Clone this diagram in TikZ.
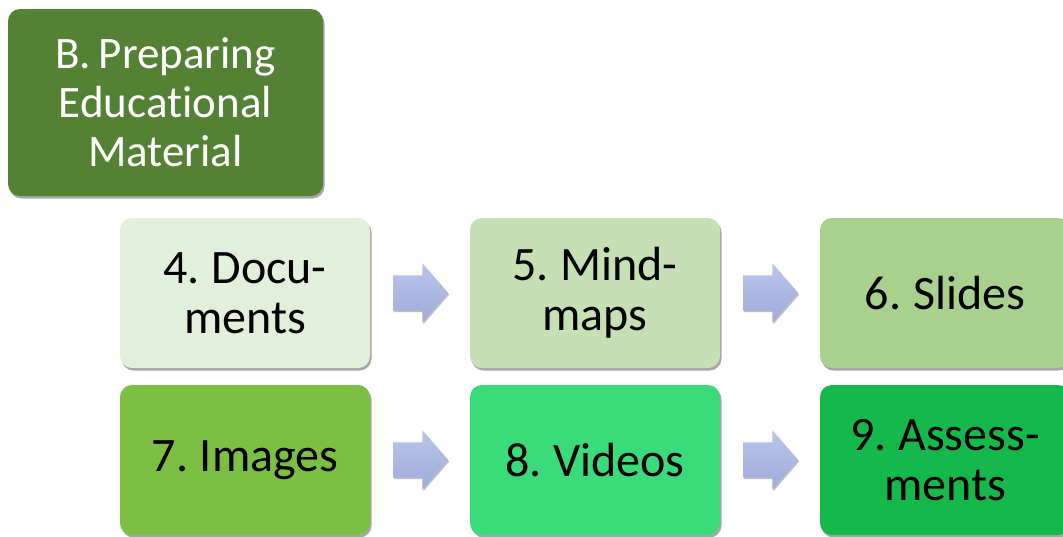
\documentclass[tikz,border=0pt]{standalone}
\usepackage{fontspec}
\setmainfont[RawFeature=-liga,WordSpace=0.75]{Carlito}
\usetikzlibrary{shadows,shapes.arrows}
\definecolor{cB}{HTML}{548235}
\definecolor{c4}{HTML}{E2EFDA}
\definecolor{c5}{HTML}{C5E0B4}
\definecolor{c6}{HTML}{A9D18E}
\definecolor{c7}{HTML}{7BC043}
\definecolor{c8}{HTML}{3ADC7A}
\definecolor{c9}{HTML}{15B84A}
\definecolor{arrtop}{HTML}{B9C5EA}
\definecolor{arrbot}{HTML}{9DACDA}
\tikzset{
  box/.style={rounded corners=12pt, draw=none, align=center,
    font=\fontsize{48}{50}\selectfont, text=black,
    drop shadow={shadow xshift=1.5pt, shadow yshift=-2.5pt, opacity=0.35, fill=black},
    minimum width=250pt, minimum height=150pt, inner sep=0pt},
  flow/.style={shape=single arrow, draw=none, top color=arrtop, bottom color=arrbot,
    minimum height=55pt, inner sep=17.5pt, single arrow head extend=12pt,
    single arrow tip angle=98,
    drop shadow={shadow xshift=1pt, shadow yshift=-1.5pt, opacity=0.25, fill=black}}
}
\begin{document}
\begin{tikzpicture}[x=1pt,y=-1pt]
\useasboundingbox (0,0) rectangle (1063,536);
\node[box, fill=cB, text=white, minimum width=315pt, minimum height=187pt, font=\fontsize{45}{49}\selectfont] (b) at (165.5,102.5) {B. Preparing\\Educational\\Material};
\node[box, fill=c4] (n4) at (245,293) {4. Docu-\\ments};
\node[box, fill=c5] (n5) at (595,293) {5. Mind-\\maps};
\node[box, fill=c6] (n6) at (945,293) {6. Slides};
\node[box, fill=c7] (n7) at (245,460) {7. Images};
\node[box, fill=c8] (n8) at (595,460) {8. Videos};
\node[box, fill=c9] (n9) at (945,460) {9. Assess-\\ments};
\node[flow] (a45) at (413,293) {};
\node[flow] (a56) at (763,293) {};
\node[flow] (a78) at (413,460) {};
\node[flow] (a89) at (763,460) {};
\end{tikzpicture}
\end{document}
